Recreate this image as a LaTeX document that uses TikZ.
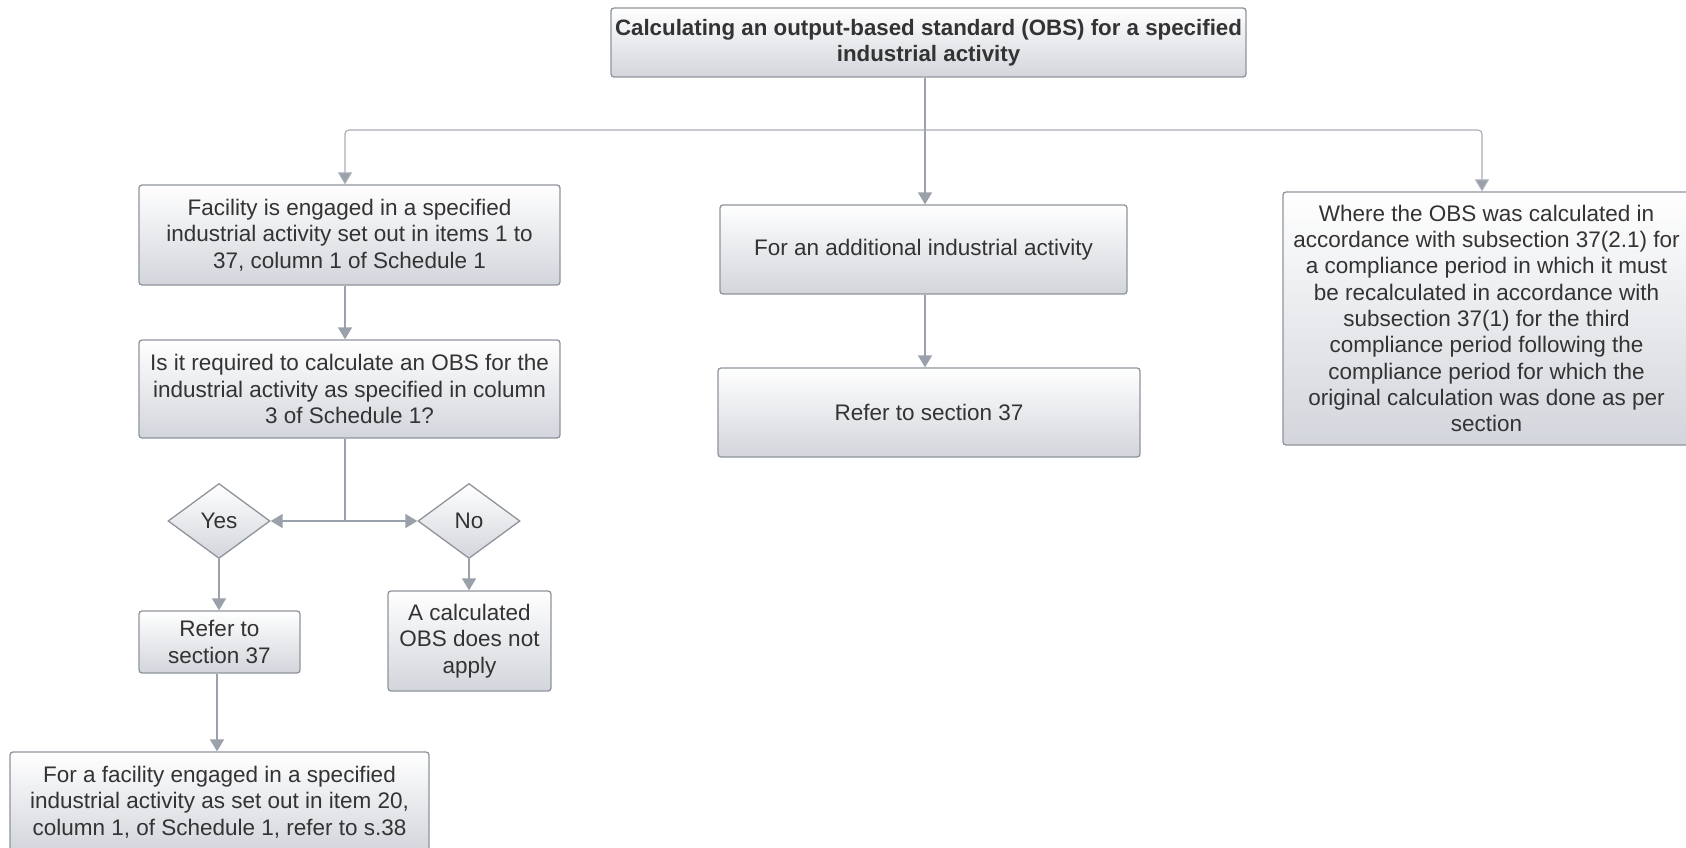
\documentclass[tikz,border=0pt]{standalone}
\usepackage{fontspec}
\setmainfont{Liberation Sans}
\usetikzlibrary{arrows.meta,shapes.geometric}
\definecolor{edgegray}{HTML}{8F949C}
\definecolor{linkgray}{HTML}{9BA1AA}
\definecolor{branchgray}{HTML}{A9AEB6}
\definecolor{shadegray}{HTML}{D2D5DB}
\definecolor{inkgray}{HTML}{333333}
\tikzset{
  flowbox/.style={rectangle, rounded corners=3pt, draw=edgegray, line width=1.3pt,
    top color=white, bottom color=shadegray, text=inkgray, align=center, inner sep=0pt,
    font=\fontsize{22.5}{26.3}\selectfont},
  choice/.style={diamond, draw=edgegray, line width=1.3pt, top color=white,
    bottom color=shadegray, text=inkgray, inner sep=0pt,
    minimum width=102pt, minimum height=75pt, font=\fontsize{22.5}{26.3}\selectfont},
  link/.style={draw=linkgray, line width=1.5pt, -{Triangle[length=12pt,width=14pt]}},
  plain/.style={draw=linkgray, line width=1.5pt}
}
\begin{document}
\begin{tikzpicture}[x=1pt,y=-1pt]
\useasboundingbox (0,0) rectangle (1686,848);

% title
\node[flowbox, minimum width=635pt, minimum height=69pt, font=\fontsize{22.3}{26.3}\selectfont\bfseries]
  (title) at (928.5,42.5) {Calculating an output-based standard (OBS) for a specified\\industrial activity};

% left column
\node[flowbox, minimum width=421pt, minimum height=100pt] (engaged) at (349.5,235)
  {Facility is engaged in a specified\\industrial activity set out in items 1 to\\37, column 1 of Schedule 1};
\node[flowbox, minimum width=421pt, minimum height=98pt] (required) at (349.5,389)
  {Is it required to calculate an OBS for the\\industrial activity as specified in column\\3 of Schedule 1?};
\node[choice] (yes) at (219,521) {Yes};
\node[choice] (no) at (469,521) {No};
\node[flowbox, minimum width=161pt, minimum height=62pt] (refer) at (219.5,642)
  {Refer to\\section 37};
\node[flowbox, minimum width=163pt, minimum height=100pt] (notapply) at (469.5,641)
  {A calculated\\OBS does not\\apply};
\node[flowbox, minimum width=419pt, minimum height=100pt] (item20) at (219.5,802)
  {For a facility engaged in a specified\\industrial activity as set out in item 20,\\column 1, of Schedule 1, refer to s.38};

% middle column
\node[flowbox, minimum width=407pt, minimum height=89pt] (additional) at (923.5,249.5)
  {For an additional industrial activity};
\node[flowbox, minimum width=422pt, minimum height=89pt] (sec37) at (929,412.5)
  {Refer to section 37};

% right column
\node[flowbox, minimum width=407pt, minimum height=253pt] (recalc) at (1486.5,318.5)
  {Where the OBS was calculated in\\accordance with subsection 37(2.1) for\\a compliance period in which it must\\be recalculated in accordance with\\subsection 37(1) for the third\\compliance period following the\\compliance period for which the\\original calculation was done as per\\section};

% connectors
\coordinate (branch) at (925,130);
\draw[link] (title.south -| branch) -- (additional.north -| branch);
\draw[draw=branchgray, line width=1.2pt, rounded corners=4pt,
  {Triangle[length=12pt,width=14pt,fill=linkgray]}-{Triangle[length=12pt,width=14pt,fill=linkgray]}]
  (engaged.north -| 345,0) |- (branch) -| (recalc.north -| 1482,0);
\draw[link] (engaged.south -| 345,0) -- (required.north -| 345,0);
\draw[link] (additional.south -| branch) -- (sec37.north -| branch);

\coordinate (split) at (345,521);
\draw[plain] (required.south -| split) -- (split);
\draw[link] (split) -- (yes.east);
\draw[link] (split) -- (no.west);
\draw[link] (yes.south) -- (refer.north -| yes.south);
\draw[link] (no.south) -- (notapply.north -| no.south);
\draw[link] (refer.south -| 217,0) -- (item20.north -| 217,0);
\end{tikzpicture}
\end{document}
